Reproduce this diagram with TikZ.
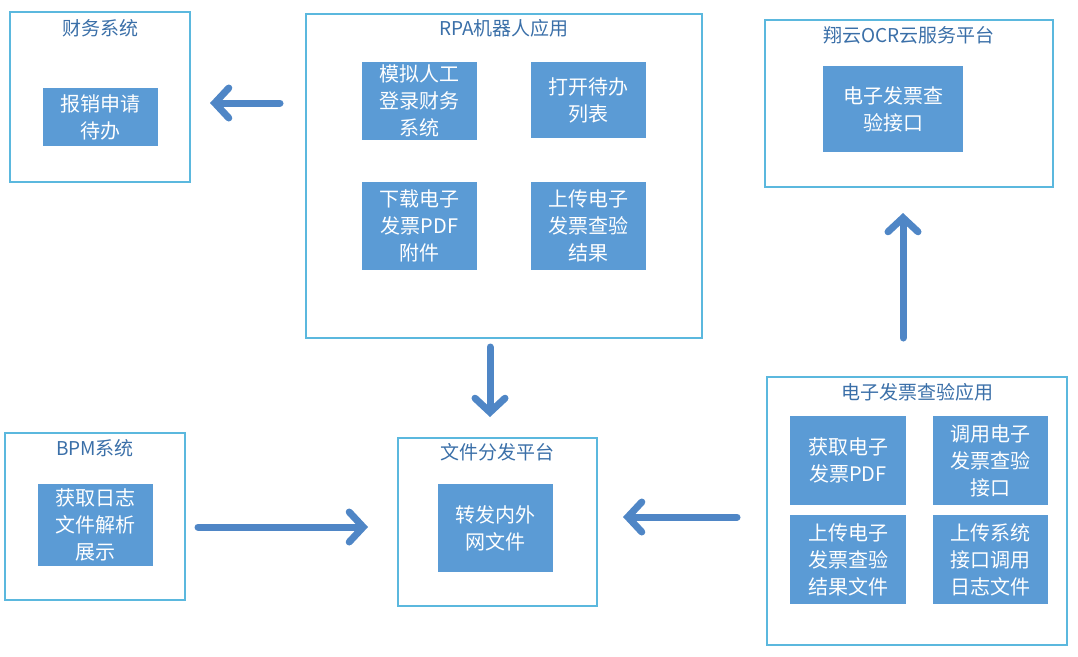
\documentclass[tikz,border=0pt]{standalone}
\usepackage{fontspec}
\setmainfont{Noto Sans CJK SC}
\usetikzlibrary{arrows.meta}
\definecolor{frame}{HTML}{5BB8DE}
\definecolor{fillb}{HTML}{5B9BD5}
\definecolor{arr}{HTML}{4F86C6}
\definecolor{tit}{HTML}{3A6FA8}
\begin{document}
\begin{tikzpicture}[x=1pt,y=-1pt,
 outer/.style={draw=frame,line width=1.2pt},
 inner/.style={fill=fillb,text=white,font=\fontsize{20}{27}\selectfont,align=center,inner sep=0pt},
 title/.style={text=tit,font=\fontsize{19}{22}\selectfont},
 arrow/.style={draw=arr,line width=7pt,line cap=round,-{Straight Barb[length=14pt,width=30pt,line cap=round]}}]
\useasboundingbox (0,0) rectangle (1078,656);
% outer boxes
\draw[outer] (10,12) rectangle (190,182);
\node[title] (t1) at (100,28) {财务系统};
\draw[outer] (306,14) rectangle (702,338);
\node[title] (t2) at (504,28) {RPA机器人应用};
\draw[outer] (765,20) rectangle (1053,187);
\node[title] (t3) at (909,35) {翔云OCR云服务平台};
\draw[outer] (5,433) rectangle (185,600);
\node[title] (t4) at (95,448) {BPM系统};
\draw[outer] (398,438) rectangle (597,606);
\node[title] (t5) at (497,452) {文件分发平台};
\draw[outer] (767,377) rectangle (1067,645);
\node[title] (t6) at (917,392) {电子发票查验应用};
% inner boxes
\node[inner,minimum width=115pt,minimum height=58pt] (a1) at (100.5,117) {报销申请\\待办};
\node[inner,minimum width=115pt,minimum height=78pt] (b1) at (419.5,101) {模拟人工\\登录财务\\系统};
\node[inner,minimum width=115pt,minimum height=76pt] (b2) at (588.5,100) {打开待办\\列表};
\node[inner,minimum width=115pt,minimum height=88pt] (b3) at (419.5,226) {下载电子\\发票PDF\\附件};
\node[inner,minimum width=115pt,minimum height=88pt] (b4) at (588.5,226) {上传电子\\发票查验\\结果};
\node[inner,minimum width=140pt,minimum height=86pt] (c1) at (893,109) {电子发票查\\验接口};
\node[inner,minimum width=115pt,minimum height=82pt] (d1) at (95.5,525) {获取日志\\文件解析\\展示};
\node[inner,minimum width=115pt,minimum height=88pt] (e1) at (495.5,528) {转发内外\\网文件};
\node[inner,minimum width=116pt,minimum height=89pt] (f1) at (848,460.5) {获取电子\\发票PDF};
\node[inner,minimum width=115pt,minimum height=89pt] (f2) at (990.5,460.5) {调用电子\\发票查验\\接口};
\node[inner,minimum width=116pt,minimum height=89pt] (f3) at (848,559.5) {上传电子\\发票查验\\结果文件};
\node[inner,minimum width=115pt,minimum height=89pt] (f4) at (990.5,559.5) {上传系统\\接口调用\\日志文件};
% arrows
\coordinate (p1) at (280,103); \coordinate (q1) at (210,103);
\coordinate (p2) at (490,347); \coordinate (q2) at (490,417);
\coordinate (p3) at (198,527); \coordinate (q3) at (368,527);
\coordinate (p4) at (737,517); \coordinate (q4) at (623,517);
\coordinate (p5) at (903,338); \coordinate (q5) at (903,213);
\draw[arrow] (p1) -- (q1);
\draw[arrow] (p2) -- (q2);
\draw[arrow] (p3) -- (q3);
\draw[arrow] (p4) -- (q4);
\draw[arrow] (p5) -- (q5);
\end{tikzpicture}
\end{document}
